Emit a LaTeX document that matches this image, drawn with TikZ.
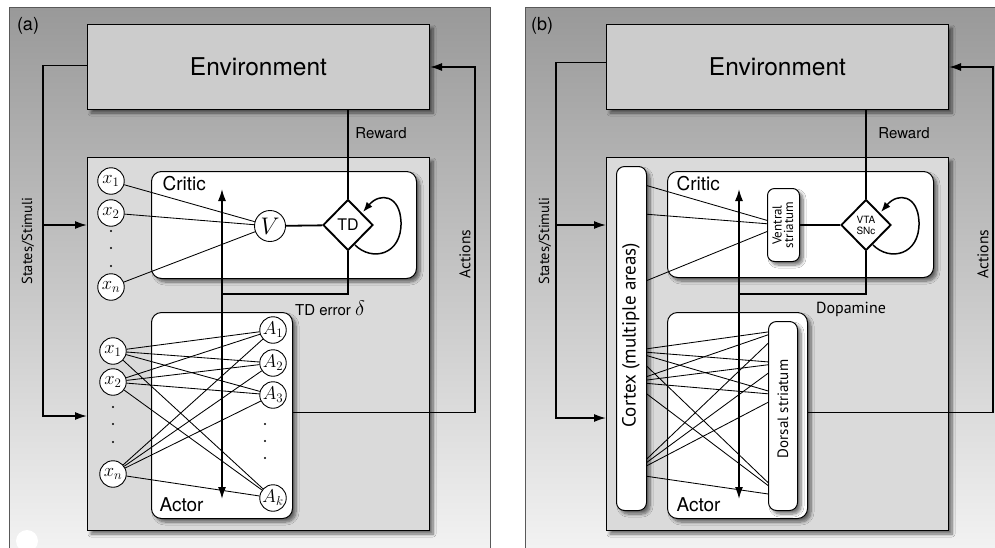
\RequirePackage{fix-cm}
\documentclass[tikz,border=0pt]{standalone}
\usepackage{fontspec}
\setmainfont{TeX Gyre Heros}
\newfontfamily\humfont{PT Sans}
\usetikzlibrary{arrows.meta,shapes.geometric,shadows.blur}

\definecolor{envgray}{gray}{0.80}
\definecolor{innergray}{gray}{0.855}
\definecolor{paneltop}{gray}{0.60}
\definecolor{panelbot}{gray}{0.97}

\tikzset{
  hv/.style={font=\fontsize{#1}{#1}\selectfont},
  hm/.style={font=\humfont\fontsize{#1}{#1}\selectfont},
  shadebox/.style={blur shadow={shadow xshift=3.5pt,shadow yshift=-3.5pt,shadow blur radius=3pt,shadow blur steps=8,shadow opacity=55}},
  envbox/.style={draw,line width=1pt,fill=envgray,minimum width=342pt,minimum height=85pt,inner sep=0pt,anchor=north west,shadebox,hv=24.5},
  innerbox/.style={draw,line width=1pt,fill=innergray,minimum width=342pt,minimum height=373pt,inner sep=0pt,anchor=north west,shadebox},
  roundbox/.style={draw,line width=1pt,fill=white,rounded corners=#1,inner sep=0pt,anchor=north west,shadebox},
  roundbox/.default=10pt,
  cellnode/.style={circle,draw,line width=0.9pt,fill=white,minimum size=26.5pt,inner sep=0pt,font=\fontsize{18.5}{18.5}\selectfont},
  errnode/.style={diamond,draw,line width=1.9pt,fill=white,minimum width=50pt,minimum height=51pt,inner sep=0pt},
  wire/.style={line width=0.85pt},
  sigline/.style={line width=1.6pt},
  arrowend/.style={-{Latex[length=12pt,width=8pt]}},
  twoends/.style={{Latex[length=12pt,width=8pt]}-{Latex[length=12pt,width=8pt]}},
  looparrow/.style={line width=1.5pt,-{Latex[length=10pt,width=7.5pt]}},
  panel/.style={draw=black!65,line width=0.9pt,top color=paneltop,bottom color=panelbot},
  vdot/.style={circle,fill=black,inner sep=0pt,minimum size=2.4pt},
}

\begin{document}
\begin{tikzpicture}[x=1pt,y=-1pt]
\useasboundingbox (0,0) rectangle (995,547);
\clip (0,0) rectangle (995,547);
\fill[white] (0,0) rectangle (995,547);

% ---------- background panels ----------
\draw[panel] (9,7) rectangle (490,580);
\draw[panel] (525,7) rectangle (1020,580);
\fill[white] (27,541) circle (11pt);
\node[hv=18] (labA) at (28,26) {(a)};
\node[hv=18] (labB) at (542,26) {(b)};

% =====================================================
% (a) abstract actor-critic
% =====================================================
\node[envbox] (envA) at (87,24) {Environment};
\node[innerbox] (inA) at (87,157) {};
\node[roundbox,minimum width=265pt,minimum height=107pt] (critA) at (151,171) {};
\node[roundbox,minimum width=141pt,minimum height=206pt] (actA) at (151,312) {};
\node[hv=19,anchor=west] (critAl) at (159,184) {Critic};
\node[hv=19,anchor=west] (actAl) at (156,505) {Actor};

% critic: state features to value unit
\node[cellnode] (cx1) at (111,181) {$x_1$};
\node[cellnode] (cx2) at (111,213) {$x_2$};
\node[cellnode] (cxn) at (111,287) {$x_n$};
\node[vdot] (cd1) at (111,231) {};
\node[vdot] (cd2) at (111,248) {};
\node[vdot] (cd3) at (111,266) {};
\node[cellnode,minimum size=31pt,font=\fontsize{24}{24}\selectfont] (V) at (270,226) {$V$};
\node[errnode,hv=16] (TD) at (348,225) {TD};
\foreach \s in {cx1,cx2,cxn} \draw[wire] (\s) -- (V);
\draw[line width=1.8pt] (V) -- (TD);
\begin{scope}[shift={(TD.center)}]
  \draw[looparrow] (7,20) .. controls (24,37) and (54,30) .. (53,-3)
                          .. controls (52,-30) and (32,-33) .. (15,-13);
\end{scope}

% reward input
\draw[sigline] (envA.south -| TD) -- (TD.north);
\node[hv=15] (rwA) at (381,133) {Reward};

% actor: state features to action units
\node[cellnode] (ax1) at (113,351) {$x_1$};
\node[cellnode] (ax2) at (113,382) {$x_2$};
\node[cellnode] (axn) at (113,474) {$x_n$};
\node[vdot] (ad1) at (113,407) {};
\node[vdot] (ad2) at (113,424) {};
\node[vdot] (ad3) at (113,442) {};
\node[cellnode] (A1) at (273,330) {$A_1$};
\node[cellnode] (A2) at (273,363) {$A_2$};
\node[cellnode] (A3) at (273,395) {$A_3$};
\node[cellnode] (Ak) at (273,498) {$A_k$};
\node[vdot] (od1) at (265,424) {};
\node[vdot] (od2) at (265,441) {};
\node[vdot] (od3) at (265,458) {};
\foreach \s in {ax1,ax2,axn}
  \foreach \t in {A1,A2,A3,Ak}
    \draw[wire] (\s) -- (\t);

% TD error broadcast to critic and actor
\coordinate (jA) at (222,294);
\coordinate (upA) at (222,189);
\coordinate (dnA) at (222,499);
\draw[sigline,twoends] (upA) -- (dnA);
\draw[sigline] (TD.south) |- (jA);
\node[hv=15] (tdeA) at (330,308) {TD error~{\fontsize{21}{21}\selectfont$\delta$}};

% actions back to the environment
\coordinate (acA) at (475,67);
\draw[sigline,arrowend] ([yshift=3pt]actA.east) -| (acA) -- (envA.east |- acA);
\node[hm=15.5,rotate=90] (actlA) at (465,254) {Actions};

% states from the environment
\coordinate (stA) at (43,416);
\coordinate (stmA) at (43,225);
\draw[sigline,arrowend] ([yshift=1.5pt]envA.west) -| (stA) -- (inA.west |- stA);
\draw[sigline,arrowend] (stmA) -- (inA.west |- stmA);
\node[hm=14.5,rotate=90] (stlA) at (28,241) {States/Stimuli};

% =====================================================
% (b) neural mapping
% =====================================================
\node[envbox] (envB) at (606,24) {Environment};
\node[innerbox] (inB) at (606,157) {};
\node[roundbox,minimum width=266pt,minimum height=106pt] (critB) at (667,171) {};
\node[roundbox,minimum width=140pt,minimum height=206pt] (actB) at (667,312) {};
\node[hv=19,anchor=west] (critBl) at (673,184) {Critic};
\node[hv=19,anchor=west] (actBl) at (673,505) {Actor};

% projections from cortex (hidden end points sit inside the boxes)
\coordinate (cs1) at (631,181);
\coordinate (cs2) at (631,213);
\coordinate (csn) at (631,287);
\coordinate (vsc) at (783,225);
\foreach \s in {cs1,cs2,csn} \draw[wire] (\s) -- (vsc);
\coordinate (bs1) at (631,351);
\coordinate (bs2) at (631,382);
\coordinate (bsn) at (631,474);
\coordinate (bt1) at (782,330);
\coordinate (bt2) at (782,363);
\coordinate (bt3) at (782,395);
\coordinate (btk) at (782,496);
\foreach \s in {bs1,bs2,bsn}
  \foreach \t in {bt1,bt2,bt3,btk}
    \draw[wire] (\s) -- (\t);

\node[roundbox=8pt,minimum width=30pt,minimum height=344pt] (ctx) at (616,166) {};
\node[roundbox=7pt,minimum width=32pt,minimum height=73pt] (vent) at (767,188) {};
\node[roundbox=8pt,minimum width=29pt,minimum height=189pt] (dors) at (768,321) {};
\node[hm=19,rotate=90] (ctxl) at (631,335) {Cortex (multiple areas)};
\node[rotate=90,align=center,font=\humfont\fontsize{13}{11.5}\selectfont] (ventl) at (783,225) {Ventral\\striatum};
\node[hm=15,rotate=90] (dorsl) at (783,409) {Dorsal striatum};

\node[errnode,align=center,font=\fontsize{10}{11}\selectfont] (vta) at (866,225) {VTA\\SNc};
\draw[line width=1.8pt] (vent) -- (vta);
\begin{scope}[shift={(vta.center)}]
  \draw[looparrow] (7,20) .. controls (24,37) and (54,30) .. (53,-3)
                          .. controls (52,-30) and (32,-33) .. (15,-13);
\end{scope}

\draw[sigline] (envB.south -| vta) -- (vta.north);
\node[hv=15] (rwB) at (904,133) {Reward};

\coordinate (jB) at (739,294);
\coordinate (upB) at (739,189);
\coordinate (dnB) at (739,499);
\draw[sigline,twoends] (upB) -- (dnB);
\draw[sigline] (vta.south) |- (jB);
\node[hm=16] (dopl) at (851,309) {Dopamine};

\coordinate (acB) at (993,67);
\draw[sigline,arrowend] ([yshift=3pt]actB.east) -| (acB) -- (envB.east |- acB);
\node[hm=15.5,rotate=90] (actlB) at (983,254) {Actions};

\coordinate (stB) at (556,418);
\coordinate (stmB) at (556,225);
\draw[sigline,arrowend] ([yshift=4.5pt]envB.west) -| (stB) -- (inB.west |- stB);
\draw[sigline,arrowend] (stmB) -- (inB.west |- stmB);
\node[hm=14.5,rotate=90] (stlB) at (545,241) {States/Stimuli};
\end{tikzpicture}
\end{document}
